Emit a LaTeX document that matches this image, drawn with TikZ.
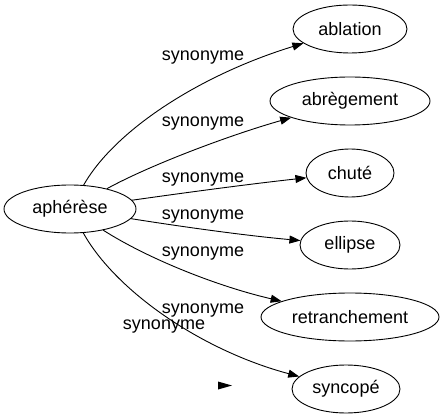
\documentclass[tikz,border=0pt]{standalone}
\usepackage{fontspec}
\setmainfont{Liberation Sans}
\usetikzlibrary{shapes.geometric,arrows.meta}
\begin{document}
\begin{tikzpicture}[x=1pt,y=-1pt,
  every node/.style={font=\fontsize{18}{21}\selectfont},
  word/.style={draw,ellipse,inner sep=0pt,minimum height=48pt,line width=0.9pt},
  lbl/.style={inner sep=0pt},
  syn/.style={line width=0.9pt,-{Triangle[length=11pt,width=8pt]}}]
\useasboundingbox (0,0) rectangle (443,419);
\node[word,minimum width=132pt] (a) at (70,209) {aphérèse};
\node[word,minimum width=114pt] (b1) at (350,29) {ablation};
\node[word,minimum width=160pt] (b2) at (350,101) {abrègement};
\node[word,minimum width=88pt] (b3) at (350,173) {chuté};
\node[word,minimum width=100pt] (b4) at (350,245) {ellipse};
\node[word,minimum width=178pt] (b5) at (350,317) {retranchement};
\node[word,minimum width=108pt] (b6) at (346,389) {syncopé};
\draw[syn] (a) .. controls (115,130) and (200,75) .. (b1);
\draw[syn] (a) .. controls (150,165) and (230,135) .. (b2);
\draw[syn] (a) .. controls (190,192) and (250,184) .. (b3);
\draw[syn] (a) .. controls (190,228) and (250,236) .. (b4);
\draw[syn] (a) .. controls (150,260) and (220,287) .. (b5);
\draw[syn] (a) .. controls (115,290) and (200,350) .. (b6);
\node[lbl] (l1) at (203,58) {synonyme};
\node[lbl] (l2) at (203,124) {synonyme};
\node[lbl] (l3) at (203,180) {synonyme};
\node[lbl] (l4) at (203,217) {synonyme};
\node[lbl] (l5) at (203,254) {synonyme};
\node[lbl] (l6) at (203,311) {synonyme};
\node[lbl] (l7) at (164,327) {synonyme};
\fill (218,381.5) -- (232,385.5) -- (218,389.5) -- cycle;
\end{tikzpicture}
\end{document}
